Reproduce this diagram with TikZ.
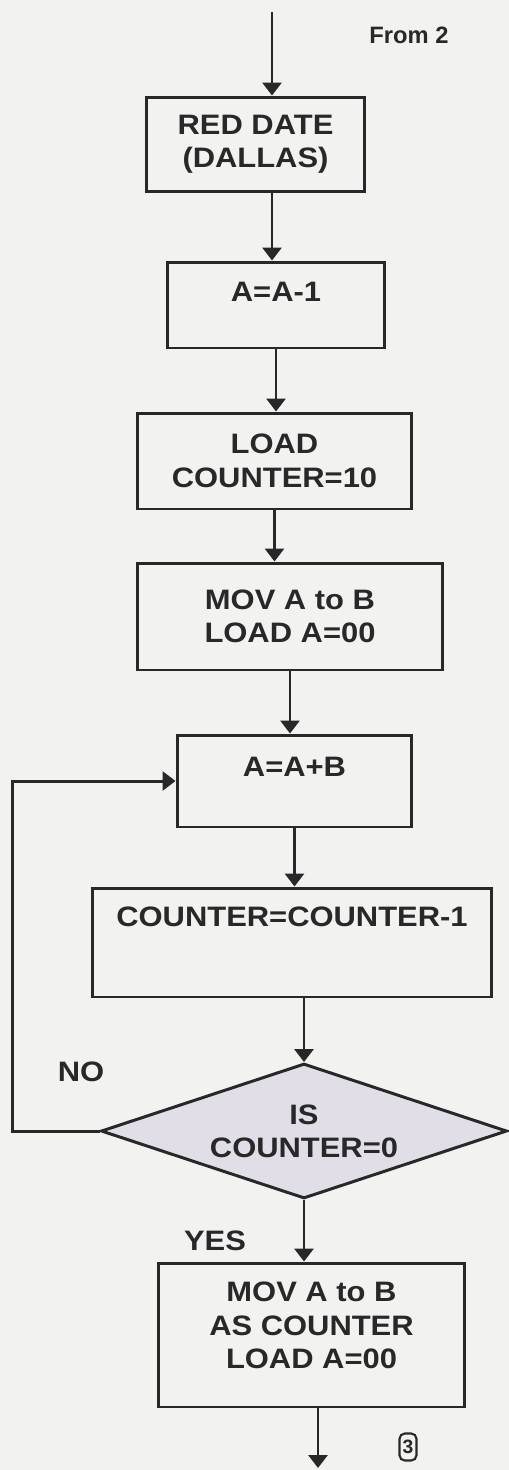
\documentclass[tikz,border=0pt]{standalone}
\usepackage{fontspec}
\setmainfont{Liberation Sans}[FakeStretch=1.1]
\newfontfamily\tagfont{Liberation Sans}
\usepackage{tikz}
\usetikzlibrary{shapes.geometric, arrows.meta}
\definecolor{ink}{RGB}{40,40,40}
\definecolor{paper}{RGB}{242,242,240}
\definecolor{dfill}{RGB}{226,222,232}

\begin{document}
\begin{tikzpicture}[
  x=0.02cm, y=-0.02cm,
  arr/.style={-{Triangle[width=3.8mm, length=2.6mm]}, line width=1.7pt, draw=ink},
  lbl/.style={font=\fontsize{16}{19}\selectfont\bfseries, text=ink},
  procbox/.style={rectangle, draw=ink, line width=1.7pt, fill=paper, align=center, inner sep=0pt, font=\fontsize{16}{19}\selectfont\bfseries, text=ink},
  decbox/.style={diamond, aspect=3, draw=ink, line width=1.7pt, fill=dfill, align=center, inner sep=0pt, font=\fontsize{16}{19}\selectfont\bfseries, text=ink}
]

\fill[paper] (0,0) rectangle (509,1470);

\node[procbox, minimum width=4.38cm, minimum height=1.90cm] (red)  at (255.5,144.5) {RED DATE\\(DALLAS)};
\node[procbox, minimum width=4.36cm, minimum height=1.72cm] (dec)  at (276,305)     {A=A-1\\[-4pt]~};
\node[procbox, minimum width=5.50cm, minimum height=1.92cm] (cnt)  at (274.5,461)   {LOAD\\COUNTER=10};
\node[procbox, minimum width=6.12cm, minimum height=2.14cm] (mov)  at (290,616.5)   {MOV A to B\\LOAD A=00};
\node[procbox, minimum width=4.70cm, minimum height=1.84cm] (add)  at (294.5,781)   {A=A+B\\[-3pt]~};
\node[procbox, minimum width=8.00cm, minimum height=2.18cm] (sub)  at (292,942.5)   {COUNTER=COUNTER-1\\[10pt]~};
\node[decbox,  minimum width=8.12cm, minimum height=2.70cm] (test) at (304,1131)    {IS\\COUNTER=0};
\node[procbox, minimum width=6.14cm, minimum height=2.88cm] (out)  at (311.5,1335)  {MOV A to B\\AS COUNTER\\LOAD A=00\\[-8pt]~};

\node[lbl] (no)  at (81,1072)  {NO};
\node[lbl] (yes) at (215,1241) {YES};
\node[font=\tagfont\bfseries\fontsize{13.5}{15}\selectfont, text=ink] (from) at (409,35) {From 2};
\node[rectangle, rounded corners=3pt, draw=ink, line width=1.2pt, minimum width=0.34cm, minimum height=0.54cm, inner sep=0pt, font=\tagfont\bfseries\fontsize{11}{13}\selectfont, text=ink] (page) at (408,1447) {3};

\coordinate (entry) at (272,12);
\coordinate (exit)  at (318,1468);

\draw[arr] (entry) -- (entry |- red.north);
\draw[arr] (entry |- red.south) -- (entry |- dec.north);
\draw[arr] (dec.south) -- (dec.south |- cnt.north);
\draw[arr] (cnt.south) -- (cnt.south |- mov.north);
\draw[arr] (mov.south) -- (mov.south |- add.north);
\draw[arr] (add.south) -- (add.south |- sub.north);
\draw[arr] (sub.south -| test.north) -- (test.north);
\draw[arr] (test.south) -- (test.south |- out.north);
\draw[arr] (exit |- out.south) -- (exit);
\draw[arr] (test.west) -- ++(-87,0) |- (add.west);
\end{tikzpicture}
\end{document}
